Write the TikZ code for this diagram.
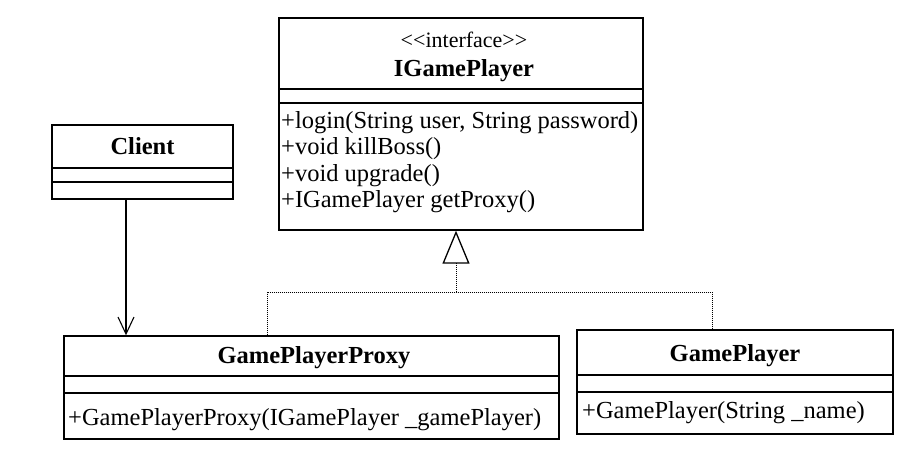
\documentclass[tikz,border=0pt]{standalone}
\usepackage{fontspec}
\setmainfont{Liberation Serif}
\usetikzlibrary{arrows.meta}
\begin{document}
\begin{tikzpicture}[x=1pt,y=-1pt,
  cls/.style={draw, line width=1.4pt, inner sep=0pt, rectangle},
  divline/.style={line width=1.3pt},
  optext/.style={anchor=base west, inner sep=0pt, font=\fontsize{24.5}{28}\selectfont},
  nametext/.style={anchor=base, inner sep=0pt, font=\fontsize{24.5}{28}\selectfont\bfseries},
  stereo/.style={anchor=base, inner sep=0pt, font=\fontsize{22}{26}\selectfont},
  realize/.style={densely dotted, line width=1pt},
  assoc/.style={line width=1.1pt, -{Straight Barb[length=17pt, width=16pt, line width=1.1pt]}}
]
\useasboundingbox (0,0) rectangle (921,448);
\fill[white] (0,0) rectangle (921,448);

% IGamePlayer
\node[cls, minimum width=364pt, minimum height=212pt] (igp) at (461,124) {};
\draw[divline] (279,89) -- (643,89);
\draw[divline] (279,103) -- (643,103);
\node[stereo] (igpst) at (464,47) {{<}{<}interface{>}{>}};
\node[nametext] (igpname) at (464,76) {IGamePlayer};
\node[optext] (op1) at (281,128) {+login(String user, String password)};
\node[optext] (op2) at (281,154.5) {+void killBoss()};
\node[optext] (op3) at (281,181) {+void upgrade()};
\node[optext] (op4) at (281,207.5) {+IGamePlayer getProxy()};

% Client
\node[cls, minimum width=181pt, minimum height=74pt] (client) at (142.5,162) {};
\draw[divline] (52,168) -- (233,168);
\draw[divline] (52,182) -- (233,182);
\node[nametext] (clientname) at (142.5,154) {Client};

% GamePlayerProxy
\node[cls, minimum width=495pt, minimum height=103pt] (proxy) at (311.5,387.5) {};
\draw[divline] (64,376) -- (559,376);
\draw[divline] (64,393) -- (559,393);
\node[nametext] (proxyname) at (314,363) {GamePlayerProxy};
\node[optext] (proxyop) at (68,425) {+GamePlayerProxy(IGamePlayer \_gamePlayer)};

% GamePlayer
\node[cls, minimum width=316pt, minimum height=104pt] (gp) at (735,382) {};
\draw[divline] (577,375) -- (893,375);
\draw[divline] (577,392) -- (893,392);
\node[nametext] (gpname) at (735,361) {GamePlayer};
\node[optext] (gpop) at (582,418) {+GamePlayer(String \_name)};

% connectors
\coordinate (cl) at (126,199);
\coordinate (jn) at (456,292);
\coordinate (pj) at (267,292);
\coordinate (gj) at (712,292);
\draw[assoc] (cl) -- (cl |- proxy.north);
\draw[realize] (pj |- proxy.north) -- (pj) -- (gj) -- (gj |- gp.north);
\draw[realize, -{Triangle[open, length=33pt, width=27pt, line width=1.3pt]}] (jn) -- (jn |- igp.south);
\end{tikzpicture}
\end{document}
